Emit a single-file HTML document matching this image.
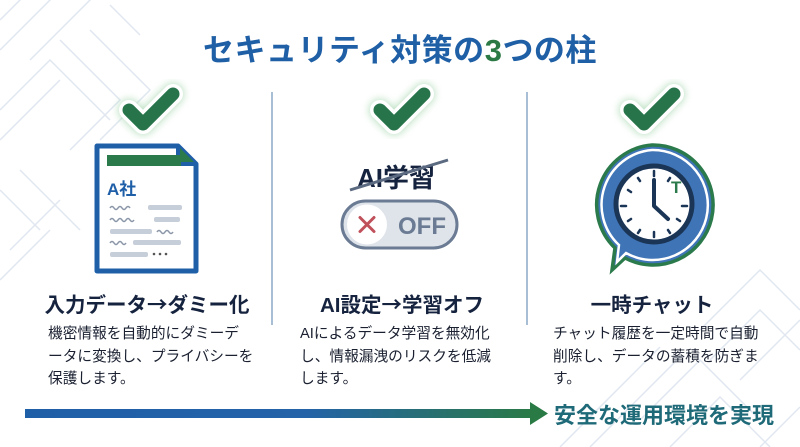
<!DOCTYPE html>
<html><head><meta charset="utf-8"><style>
html,body{margin:0;padding:0;}
body{width:800px;height:447px;overflow:hidden;background:#fff;position:relative;font-family:"Liberation Sans","Noto Sans CJK JP",sans-serif;}
.t{position:absolute;white-space:nowrap;}
.title{left:0;width:800px;top:25px;text-align:center;font-size:31px;font-weight:bold;color:#1f5fa5;letter-spacing:0.5px;}
.h{font-size:20.5px;font-weight:bold;color:#16233f;top:288px;text-align:center;width:260px;}
.h .a{font-family:"Noto Sans CJK JP",sans-serif;}
.b{font-size:14.7px;color:#1a2030;line-height:22.5px;top:323px;}
</style></head><body>
<svg width="800" height="447" style="position:absolute;left:0;top:0">
<defs>
<linearGradient id="ag" x1="0" x2="1"><stop offset="0" stop-color="#1f5fa8"/><stop offset="0.55" stop-color="#2463a8"/><stop offset="1" stop-color="#2a7a45"/></linearGradient>
<filter id="gl" x="-50%" y="-50%" width="200%" height="200%"><feGaussianBlur stdDeviation="4"/></filter>
<g id="ck">
<path d="M-22 0 L-8 14 L22 -16" fill="none" stroke="#9fd3a8" stroke-width="22" stroke-linecap="round" stroke-linejoin="round" filter="url(#gl)" opacity="0.7"/>
<path d="M-22 0 L-8 14 L22 -16" fill="none" stroke="#fff" stroke-width="20" stroke-linecap="round" stroke-linejoin="round"/>
<path d="M-22 0 L-8 14 L22 -16" fill="none" stroke="#27744a" stroke-width="13" stroke-linecap="round" stroke-linejoin="round"/>
</g>
</defs>
<g fill="none" stroke="#e0e7f0" stroke-width="1.5">
<path d="M0 20 L40 -20 M0 50 L70 -20 M30 60 L100 -10 M60 40 L120 100 L70 150 M90 30 L150 90 L100 140 M0 110 L50 60 L110 120 M0 140 L60 80 M20 170 L80 230 M0 190 L40 230 M10 250 L60 200 M0 280 L50 230 M110 5 L140 35"/>
<path d="M560 447 L660 347 M590 447 L680 357 M700 330 L760 270 L800 310 M710 360 L760 310 L800 350 M640 420 L700 360 L760 420 M670 447 L720 397 L770 447 M740 380 L800 320 M760 447 L800 407"/>
</g>
<line x1="272" y1="92" x2="272" y2="325" stroke="#8aa9c6" stroke-width="1.5"/>
<line x1="527" y1="92" x2="527" y2="325" stroke="#8aa9c6" stroke-width="1.5"/>
<use href="#ck" x="151" y="110"/>
<use href="#ck" x="402" y="110"/>
<use href="#ck" x="652" y="110"/>
<path d="M97 146 L178 146 L196 164 L196 271 L97 271 Z" fill="#fff" stroke="#1f5fa8" stroke-width="5" stroke-linejoin="round"/>
<path d="M178 146 L178 164 L196 164" fill="#2b7a4b" stroke="#1f5fa8" stroke-width="4" stroke-linejoin="round"/>
<rect x="107" y="155" width="74" height="11" fill="#2b7a4b"/>
<text x="107" y="195" font-size="17" font-weight="bold" fill="#1f5fa8" font-family="Liberation Sans,Noto Sans CJK JP,sans-serif">A社</text>
<g stroke="#8b97a8" stroke-width="1.5" fill="none">
<path d="M110 208 q2 -3 4 0 t4 0 t4 0 t4 0 t4 0"/><path d="M110 220 q2 -3 4 0 t4 0 t4 0 t4 0 t4 0 t4 0"/>
<path d="M157 232 q2 -3 4 0 t4 0 t4 0 t4 0"/><path d="M110 243 q2 -3 4 0 t4 0 t4 0 t4 0"/>
</g>
<g fill="#c6ceda"><rect x="148" y="205" width="34" height="5" rx="2"/><rect x="154" y="217" width="26" height="5" rx="2"/><rect x="110" y="229" width="42" height="5" rx="2"/><rect x="133" y="240" width="48" height="5" rx="2"/><rect x="110" y="252" width="38" height="5" rx="2"/></g>
<g fill="#555"><circle cx="154" cy="254" r="1.3"/><circle cx="160" cy="254" r="1.3"/><circle cx="166" cy="254" r="1.3"/></g>
<text x="357" y="187" font-size="26" font-weight="bold" fill="#16233f" font-family="Liberation Sans,Noto Sans CJK JP,sans-serif">AI学習</text>
<line x1="350" y1="190" x2="448" y2="160" stroke="#5b6a80" stroke-width="3"/>
<rect x="342" y="201" width="115" height="47" rx="23.5" fill="#dfe3ea" stroke="#6a7b93" stroke-width="3"/>
<circle cx="367" cy="224.5" r="20" fill="#fff"/>
<path d="M360 217.5 L374 231.5 M374 217.5 L360 231.5" stroke="#c0505a" stroke-width="3" stroke-linecap="round"/>
<text x="398" y="234" font-size="24" font-weight="bold" fill="#6a7b93" font-family="Liberation Sans,sans-serif">OFF</text>
<path d="M652 145 A60 60 0 1 1 625 258 L612 270 L615 248 A60 60 0 0 1 652 145 Z" fill="#3f74b6" stroke="#2b7a4b" stroke-width="3.5"/>
<path d="M652 150 A55 55 0 1 1 626 253 L617 262 L619 245 A55 55 0 0 1 652 150 Z" fill="none" stroke="#fff" stroke-width="2.5"/>
<circle cx="654" cy="204" r="38" fill="#fff" stroke="#1b3557" stroke-width="5"/>
<g stroke="#1b3557" stroke-width="2.5" stroke-linecap="round">
<line x1="654" y1="171" x2="654" y2="176"/><line x1="654" y1="232" x2="654" y2="237"/><line x1="621" y1="206" x2="626" y2="206"/><line x1="682" y1="206" x2="687" y2="206"/>
<line x1="638" y1="178" x2="640" y2="181"/><line x1="670" y1="178" x2="668" y2="181"/><line x1="628" y1="190" x2="631" y2="192"/><line x1="628" y1="221" x2="631" y2="219"/><line x1="638" y1="233" x2="640" y2="230"/><line x1="670" y1="233" x2="668" y2="230"/><line x1="680" y1="221" x2="677" y2="219"/>
</g>
<path d="M654 180 L654 206 L668 219" fill="none" stroke="#1b3557" stroke-width="4" stroke-linecap="round" stroke-linejoin="round"/>
<text x="671" y="193" font-size="17" font-weight="bold" fill="#2b7a4b" font-family="Liberation Sans,sans-serif">T</text>
<rect x="25" y="409" width="510" height="9" fill="url(#ag)"/>
<path d="M530 402 L548 413.5 L530 425 Z" fill="#2a7a45"/>
</svg>
<div class="t title">セキュリティ対策の<span style="color:#2b7a45">3</span>つの柱</div>
<div class="t h" style="left:17px">入力データ<span class="a">→</span>ダミー化</div>
<div class="t h" style="left:272px">AI設定<span class="a">→</span>学習オフ</div>
<div class="t h" style="left:522px">一時チャット</div>
<div class="t b" style="left:48px">機密情報を自動的にダミーデ<br>ータに変換し、プライバシーを<br>保護します。</div>
<div class="t b" style="left:300px">AIによるデータ学習を無効化<br>し、情報漏洩のリスクを低減<br>します。</div>
<div class="t b" style="left:553px">チャット履歴を一定時間で自動<br>削除し、データの蓄積を防ぎま<br>す。</div>
<div class="t" style="left:554px;top:398px;font-size:22px;font-weight:bold;color:#1f6a78">安全な運用環境を実現</div>
</body></html>
